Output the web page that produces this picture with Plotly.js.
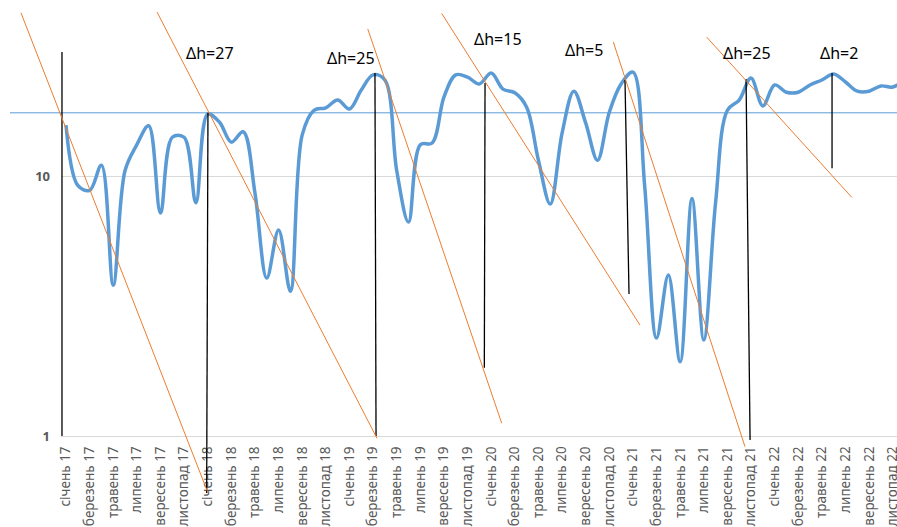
<!DOCTYPE html>
<html>
<head>
<meta charset="utf-8">
<script src="https://cdn.plot.ly/plotly-3.0.1.min.js"></script>
<style>
html,body{margin:0;padding:0;background:#fff;}
#chart{width:897px;height:527px;}
</style>
</head>
<body>
<div id="chart"></div>
<script>
// ---- data ----
const monthNames = ["січень","лютий","березень","квітень","травень","червень","липень","серпень","вересень","жовтень","листопад","грудень"];
const years = ["17","18","19","20","21","22"];
const months = [];
years.forEach(y => monthNames.forEach(m => months.push(m + " " + y)));

const values = [
  15.7, 9.2, 8.8, 11.0, 3.8, 10.5, 13.2, 15.6, 7.2, 14.1, 14.1, 7.9,
  17.3, 16.1, 13.5, 14.8, 8.6, 4.05, 6.2, 3.6, 14.4, 17.9, 18.3, 19.6,
  18.1, 21.4, 24.5, 23.4, 10.5, 6.65, 13.2, 13.4, 20.1, 24.5, 24.0, 22.6,
  24.9, 21.6, 20.9, 18.4, 11.5, 7.8, 14.6, 21.2, 16.0, 11.5, 17.6, 22.6,
  25.1, 9.1, 2.38, 4.16, 1.93, 8.2, 2.34, 7.9, 17.9, 19.6, 23.8, 18.6,
  22.4, 21.0, 21.0, 22.4, 23.4, 24.7, 23.0, 21.2, 21.2, 22.2, 22.0, 23.4
];

const refLevel = 17.5;
const refFrom = -4.74, refTo = 71;

// orange trend lines: start/end (month index, value)
const orangeI0 = [-3.81, 7.71, 25.55, 31.81, 46.34, 54.25];
const orangeV0 = [42.4, 42.7, 36.8, 42.2, 32.8, 34.2];
const orangeI1 = [12.02, 26.33, 36.89, 48.60, 57.49, 66.53];
const orangeV1 = [0.604, 0.98, 1.12, 2.67, 0.91, 8.28];

// black marker lines: top/bottom (month index, value)
const markI0 = [-0.34, 12.02, 26.16, 35.48, 47.33, 57.58, 64.86];
const markV0 = [30.0, 17.5, 24.9, 22.8, 23.4, 23.6, 24.9];
const markI1 = [-0.34, 11.91, 26.25, 35.42, 47.67, 57.92, 64.86];
const markV1 = [1.0, 0.604, 1.0, 1.83, 3.52, 0.965, 10.7];

// Δh labels
const noteText = ["Δh=27", "Δh=25", "Δh=15", "Δh=5", "Δh=25", "Δh=2"];
const noteI = [12.19, 24.13, 36.58, 43.86, 57.66, 65.45];
const noteV = [29.7, 28.4, 33.6, 30.5, 29.7, 29.7];

// ---- chart ----
const xr = [-0.423, 70.36];
const yr = [0, 1.677];
const px = i => (i - xr[0]) / (xr[1] - xr[0]);
const py = v => (Math.log10(v) - yr[0]) / (yr[1] - yr[0]);

const shapes = [];
shapes.push({type:'line', xref:'paper', yref:'paper', x0:px(refFrom), x1:px(refTo), y0:py(refLevel), y1:py(refLevel),
  line:{color:'#5B9BD5', width:1}, layer:'above'});
for (let k = 0; k < markI0.length; k++) {
  shapes.push({type:'line', xref:'paper', yref:'paper', x0:px(markI0[k]), x1:px(markI1[k]), y0:py(markV0[k]), y1:py(markV1[k]),
    line:{color:'#000000', width:1.3}, layer:'above'});
}
for (let k = 0; k < orangeI0.length; k++) {
  shapes.push({type:'line', xref:'paper', yref:'paper', x0:px(orangeI0[k]), x1:px(orangeI1[k]), y0:py(orangeV0[k]), y1:py(orangeV1[k]),
    line:{color:'#ED7D31', width:1}, layer:'above'});
}

const annotations = noteText.map((t, k) => ({
  xref:'paper', yref:'paper', x:px(noteI[k]), y:py(noteV[k]), text:t, showarrow:false,
  xanchor:'center', yanchor:'middle', font:{family:'Noto Sans, sans-serif', size:16, color:'#000000'}
}));

const tickMonths = months.filter((m, i) => i % 2 === 0);

const trace = {
  x: months, y: values, type:'scatter', mode:'lines',
  line:{color:'#5B9BD5', width:3.5, shape:'spline', smoothing:1},
  hoverinfo:'x+y'
};

const layout = {
  width:897, height:527,
  margin:{l:61, r:0, t:0, b:91, pad:0},
  paper_bgcolor:'#ffffff', plot_bgcolor:'#ffffff',
  showlegend:false,
  xaxis:{type:'category', range:xr, tickmode:'array', tickvals:tickMonths, ticktext:tickMonths,
    tickangle:-90, showgrid:false, zeroline:false, showline:true, linecolor:'#d9d9d9', linewidth:1,
    ticks:'', ticklabelstandoff:4,
    tickfont:{family:'Noto Sans, sans-serif', size:13.5, color:'#595959'}},
  yaxis:{type:'log', range:yr, tickmode:'array', tickvals:[1,10], ticktext:['<b>1</b>','<b>10</b>'],
    showgrid:true, gridcolor:'#d9d9d9', gridwidth:1, zeroline:false, showline:false, ticks:'',
    ticklabelstandoff:10,
    tickfont:{family:'Noto Sans, sans-serif', size:13, color:'#595959'}},
  shapes:shapes,
  annotations:annotations
};

Plotly.newPlot('chart', [trace], layout, {displayModeBar:false, staticPlot:true});
</script>
</body>
</html>
